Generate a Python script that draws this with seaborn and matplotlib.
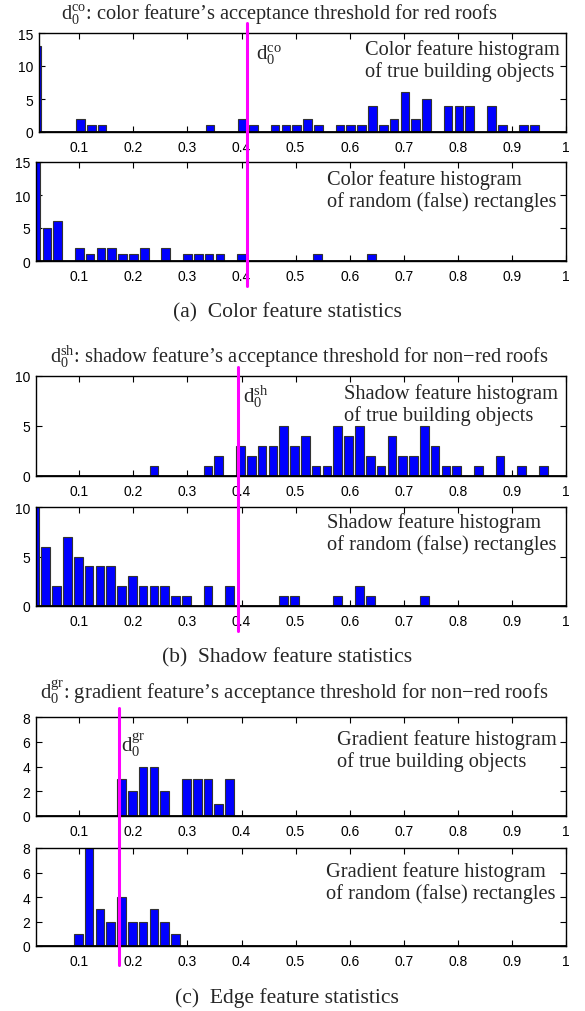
import numpy as np
import pandas as pd
import matplotlib
matplotlib.use("Agg")
import matplotlib.pyplot as plt
import seaborn as sns

# ---------------- data (bin centres and counts) ----------------
color_true_x = [0.022, 0.102, 0.122, 0.142, 0.342, 0.402, 0.422, 0.462, 0.482, 0.502,
                0.522, 0.542, 0.582, 0.602, 0.622, 0.642, 0.662, 0.682, 0.702, 0.722,
                0.742, 0.782, 0.802, 0.822, 0.862, 0.882, 0.922, 0.942]
color_true_n = [13, 2, 1, 1, 1, 2, 1, 1, 1, 1,
                2, 1, 1, 1, 1, 4, 1, 2, 6, 2,
                5, 4, 4, 4, 4, 1, 1, 1]

color_false_x = [0.02, 0.04, 0.06, 0.10, 0.12, 0.14, 0.16, 0.18, 0.20, 0.22,
                 0.26, 0.30, 0.32, 0.34, 0.36, 0.40, 0.54, 0.64]
color_false_n = [15, 5, 6, 2, 1, 2, 2, 1, 1, 2,
                 2, 1, 1, 1, 1, 1, 1, 1]

shadow_true_x = [0.238, 0.338, 0.358, 0.398, 0.418, 0.438, 0.458, 0.478, 0.498, 0.518,
                 0.538, 0.558, 0.578, 0.598, 0.618, 0.638, 0.658, 0.678, 0.698, 0.718,
                 0.738, 0.758, 0.778, 0.798, 0.838, 0.878, 0.918, 0.958]
shadow_true_n = [1, 1, 2, 3, 2, 3, 3, 5, 3, 4,
                 1, 1, 5, 4, 5, 2, 1, 4, 2, 2,
                 5, 3, 1, 1, 1, 2, 1, 1]

shadow_false_x = [0.018, 0.038, 0.058, 0.078, 0.098, 0.118, 0.138, 0.158, 0.178, 0.198,
                  0.218, 0.238, 0.258, 0.278, 0.298, 0.338, 0.378, 0.478, 0.498, 0.578,
                  0.618, 0.638, 0.738]
shadow_false_n = [10, 6, 2, 7, 5, 4, 4, 4, 2, 3,
                  2, 2, 2, 1, 1, 2, 2, 1, 1, 1,
                  2, 1, 1]

grad_true_x = [0.178, 0.198, 0.218, 0.238, 0.258, 0.298, 0.318, 0.338, 0.358, 0.378]
grad_true_n = [3, 2, 4, 4, 2, 3, 3, 3, 1, 3]

grad_false_x = [0.098, 0.118, 0.138, 0.158, 0.178, 0.198, 0.218, 0.238, 0.258, 0.278]
grad_false_n = [1, 8, 3, 2, 4, 2, 2, 3, 2, 1]

thr_color = 0.41
thr_shadow = 0.393
thr_grad = 0.173

xtick_vals = [0.1, 0.2, 0.3, 0.4, 0.5, 0.6, 0.7, 0.8, 0.9, 1.0]
xtick_labels = ["0.1", "0.2", "0.3", "0.4", "0.5", "0.6", "0.7", "0.8", "0.9", "1"]

titles = [
    r"$\mathrm{d}_0^{\mathrm{co}}$: color feature’s acceptance threshold for red roofs",
    r"$\mathrm{d}_0^{\mathrm{sh}}$: shadow feature’s acceptance threshold for non−red roofs",
    r"$\mathrm{d}_0^{\mathrm{gr}}$: gradient feature’s acceptance threshold for non−red roofs",
]
captions = ["(a)  Color feature statistics", "(b)  Shadow feature statistics",
            "(c)  Edge feature statistics"]
notes = [
    "Color feature histogram\nof true building objects",
    "Color feature histogram\nof random (false) rectangles",
    "Shadow feature histogram\nof true building objects",
    "Shadow feature histogram\nof random (false) rectangles",
    "Gradient feature histogram\nof true building objects",
    "Gradient feature histogram\nof random (false) rectangles",
]
thr_labels = [r"$\mathrm{d}_0^{\mathrm{co}}$", r"$\mathrm{d}_0^{\mathrm{sh}}$",
              r"$\mathrm{d}_0^{\mathrm{gr}}$"]

# ---------------- style ----------------
sns.set_theme(style="ticks")
plt.rcParams['font.family'] = ['Liberation Sans', 'DejaVu Sans']
plt.rcParams['mathtext.fontset'] = 'custom'
plt.rcParams['mathtext.rm'] = 'Liberation Serif'
plt.rcParams['mathtext.it'] = 'Liberation Serif:italic'
plt.rcParams['mathtext.bf'] = 'Liberation Serif:bold'

SERIF = ['Liberation Serif', 'DejaVu Serif']
W, H = 585, 1012
fig = plt.figure(figsize=(W / 100, H / 100), dpi=100)
fig.patch.set_facecolor('white')

X_RIGHT = 566.0
PX_PER_UNIT = 540.8


def add_ax(xmin, top, bottom):
    left = X_RIGHT - (1.0 - xmin) * PX_PER_UNIT
    return fig.add_axes([left / W, 1 - bottom / H, (X_RIGHT - left) / W, (bottom - top) / H])


def panel(ax, x, n, bin_start, xmin, ymax, yticks):
    df = pd.DataFrame({"value": x, "count": n})
    sns.histplot(data=df, x="value", weights="count", binwidth=0.02,
                 binrange=(bin_start, bin_start + 1.0), shrink=0.8, color='#0000ff',
                 edgecolor='#333333', linewidth=0.8, alpha=1.0, ax=ax)
    ax.set_xlim(xmin, 1.0)
    ax.set_ylim(0, ymax)
    ax.set_xticks(xtick_vals)
    ax.set_xticklabels(xtick_labels)
    ax.set_yticks(yticks)
    ax.set_yticklabels([str(v) for v in yticks])
    ax.set_xlabel('')
    ax.set_ylabel('')
    ax.tick_params(direction='in', length=4, width=0.8, top=True, right=True,
                   bottom=True, left=True, labelsize=10, colors='black')
    ax.tick_params(axis='x', pad=6)
    ax.tick_params(axis='y', pad=4)
    for s in ax.spines.values():
        s.set_visible(True)
        s.set_color('black')
        s.set_linewidth(1.0)
    ax.axhline(0, color='black', lw=1.3, zorder=3)


def fx(px):
    return px / W


def fy(py):
    return 1 - py / H


specs = [
    (color_true_x, color_true_n, 0.012, 0.025, 15, [0, 5, 10, 15], 34, 133),
    (color_false_x, color_false_n, 0.010, 0.020, 15, [0, 5, 10, 15], 163, 262),
    (shadow_true_x, shadow_true_n, 0.008, 0.020, 10, [0, 5, 10], 377, 477),
    (shadow_false_x, shadow_false_n, 0.008, 0.020, 10, [0, 5, 10], 508, 607),
    (grad_true_x, grad_true_n, 0.008, 0.020, 8, [0, 2, 4, 6, 8], 718, 817),
    (grad_false_x, grad_false_n, 0.008, 0.020, 8, [0, 2, 4, 6, 8], 849, 947),
]
axes = []
for (x, n, b0, xmin, ymax, yt, top, bot) in specs:
    ax = add_ax(xmin, top, bot)
    panel(ax, x, n, b0, xmin, ymax, yt)
    axes.append((ax, top, bot))

# threshold lines (magenta), spanning the pair of panels
thr_vals = [thr_color, thr_shadow, thr_grad]
line_extent = [(24, 287), (368, 632), (709, 966)]
for i, thr in enumerate(thr_vals):
    ax1, t1, b1 = axes[2 * i]
    ax2, t2, b2 = axes[2 * i + 1]
    top_px, bot_px = line_extent[i]
    h1 = b1 - t1
    ax1.axvline(thr, ymin=(b1 - t2) / h1, ymax=(b1 - top_px) / h1, color='#ff00ff',
                lw=2.2, clip_on=False, zorder=10)
    h2 = b2 - t2
    ax2.axvline(thr, ymin=(b2 - bot_px) / h2, ymax=1.0, color='#ff00ff',
                lw=2.2, clip_on=False, zorder=10)

# titles (left x, centre y, size)
title_pos = [(61, 14, 14.7), (50, 357, 14.7), (40, 692, 14.9)]
for t, (px, py, fs) in zip(titles, title_pos):
    fig.text(fx(px), fy(py), t, ha='left', va='center', fontsize=fs, family=SERIF)

# captions
cap_pos = [(287, 313), (287, 658), (287, 998)]
for c, (px, py) in zip(captions, cap_pos):
    fig.text(fx(px), fy(py), c, ha='center', va='center', fontsize=15.5, family=SERIF)

# notes inside panels
note_pos = [(365, 61), (327, 191), (344, 405), (327, 534), (337, 751), (326, 883)]
for t, (px, py) in zip(notes, note_pos):
    fig.text(fx(px), fy(py), t, ha='left', va='center', fontsize=14.7, family=SERIF,
             linespacing=1.1)

# threshold labels
thr_lab_pos = [(256, 55), (243, 397), (121, 745)]
for t, (px, py) in zip(thr_labels, thr_lab_pos):
    fig.text(fx(px), fy(py), t, ha='left', va='center', fontsize=15, family=SERIF)

fig.savefig('out.png', dpi=100, facecolor='white')
